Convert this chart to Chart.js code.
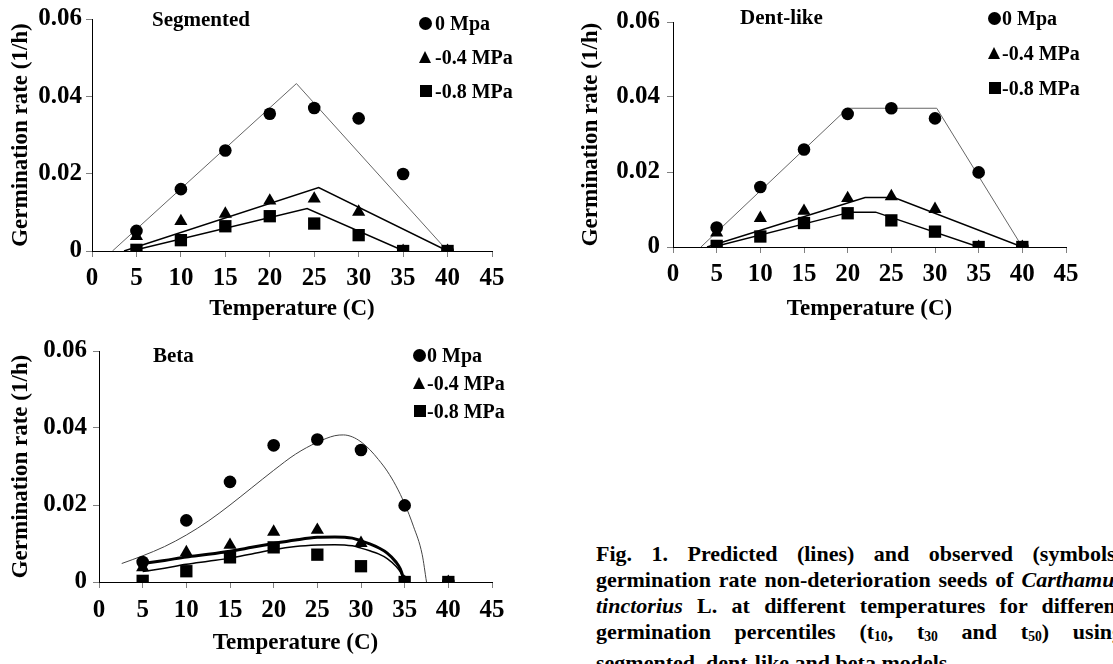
<!DOCTYPE html>
<html>
<head>
<meta charset="utf-8">
<script src="https://cdn.jsdelivr.net/npm/chart.js@4.4.1/dist/chart.umd.min.js"></script>
<style>
  html, body { margin:0; padding:0; background:#fff; }
  body { width:1113px; height:664px; position:relative; overflow:hidden;
         font-family:'Liberation Serif','Times New Roman',serif; font-weight:bold; color:#000; }
  canvas { position:absolute; }
  .lab { position:absolute; white-space:nowrap; line-height:1; }
  .mk { position:absolute; }
  .mk.circle { width:13px; height:13px; border-radius:50%; background:#000; }
  .mk.square { width:12px; height:12px; background:#000; }
  .mk.triangle { width:0; height:0; border-left:6.5px solid transparent; border-right:6.5px solid transparent; border-bottom:12px solid #000; }
  .cap { position:absolute; left:596px; top:541px; width:527px; font-size:22px; line-height:26px; }
  .cap div { text-align:justify; text-align-last:justify; white-space:nowrap; }
  .cap div.last { text-align:left; text-align-last:left; }
  .cap sub { font-size:0.62em; vertical-align:-0.15em; }
</style>
</head>
<body>
<canvas id="c1" width="556" height="330" style="left:0px;top:0px;width:556px;height:330px"></canvas>
<canvas id="c2" width="557" height="330" style="left:556px;top:0px;width:557px;height:330px"></canvas>
<canvas id="c3" width="556" height="334" style="left:0px;top:330px;width:556px;height:334px"></canvas>

<div class="lab" style="left:152px;top:9px;font-size:21px">Segmented</div>
<div class="lab" style="left:740px;top:7px;font-size:21px">Dent-like</div>
<div class="lab" style="left:153px;top:345px;font-size:21px">Beta</div>

<div id="legends"></div>

<div class="cap">
  <div>Fig. 1. Predicted (lines) and observed (symbols)</div>
  <div>germination rate non-deterioration seeds of <i>Carthamus</i></div>
  <div><i>tinctorius</i> L. at different temperatures for different</div>
  <div>germination percentiles (t<sub>10</sub>, t<sub>30</sub> and t<sub>50</sub>) using</div>
  <div class="last">segmented, dent-like and beta models</div>
</div>

<script>
// ---------- data ----------
const temps = [5, 10, 15, 20, 25, 30, 35, 40];
const obs0  = [0.0052, 0.0160, 0.0260, 0.0355, 0.0370, 0.0343, 0.0199, 0];
const obs4  = [0.0038, 0.0077, 0.0096, 0.0130, 0.0135, 0.0101, 0, 0];
const obs8  = [0.0003, 0.0028, 0.0064, 0.0090, 0.0071, 0.0041, 0, 0];
const seriesNames = ['0 Mpa', '-0.4 MPa', '-0.8 MPa'];
const panelTitles = ['Segmented', 'Dent-like', 'Beta'];

// segmented model lines
const segX0 = [2.3, 23.0, 40];   const segY0 = [0, 0.0433, 0];
const segX4 = [3.6, 25.5, 40];   const segY4 = [0, 0.0164, 0];
const segX8 = [4.4, 24.2, 35.1]; const segY8 = [0, 0.0110, 0];

// dent-like model lines
const dentX0 = [3.2, 20.0, 30.2, 40]; const dentY0 = [0, 0.0370, 0.0370, 0];
const dentX4 = [3.9, 22.0, 25.3, 40]; const dentY4 = [0, 0.0132, 0.0132, 0];
const dentX8 = [4.6, 20.3, 23.2, 35]; const dentY8 = [0, 0.0093, 0.0093, 0];

// beta model curves
const betaX0 = [2.6, 5, 7.5, 10, 12.5, 15, 17.5, 20, 22.5, 25, 27, 28, 29, 30, 31, 32, 33, 34, 35, 36, 37, 37.5];
const betaY0 = [0.0048, 0.0068, 0.0092, 0.0122, 0.0158, 0.0200, 0.0245, 0.0290, 0.0332, 0.0363, 0.0380, 0.0382, 0.0377, 0.0364, 0.0344, 0.0318, 0.0288, 0.0250, 0.0203, 0.0145, 0.0072, 0];
const betaX4 = [5, 7.5, 10, 12.5, 15, 17.5, 20, 22.5, 25, 27, 29, 30, 31, 32, 33, 34, 34.5, 35];
const betaY4 = [0.0048, 0.0056, 0.0065, 0.0072, 0.0080, 0.0090, 0.0100, 0.0109, 0.0116, 0.0117, 0.0114, 0.0107, 0.0099, 0.0089, 0.0075, 0.0052, 0.0034, 0];
const betaX8 = [5, 7.5, 10, 12.5, 15, 17.5, 20, 22.5, 25, 27, 29, 30, 31, 32, 33, 34, 34.5, 35];
const betaY8 = [0.0027, 0.0036, 0.0046, 0.0054, 0.0062, 0.0073, 0.0084, 0.0092, 0.0096, 0.0097, 0.0094, 0.0088, 0.0081, 0.0073, 0.0061, 0.0041, 0.0026, 0];

const xTicks = [0, 5, 10, 15, 20, 25, 30, 35, 40, 45];
const yTicks = [0, 0.02, 0.04, 0.06];

// ---------- chart ----------
Chart.defaults.font.family = "'Liberation Serif','Times New Roman',serif";
Chart.defaults.font.weight = 'bold';
Chart.defaults.color = '#000';

const pts = (xs, ys) => xs.map((x, i) => ({x: x, y: ys[i]}));

function panel(id, L) {
  const ds = [];
  ds.push({label:seriesNames[0], data:pts(temps, obs0), pointStyle:'circle', pointRadius:6.3,
           backgroundColor:'#000', borderColor:'#000', borderWidth:0, order:0});
  ds.push({label:seriesNames[2], data:pts(temps, obs8), pointStyle:'rect', pointRadius:8.7,
           backgroundColor:'#000', borderColor:'#000', borderWidth:0, order:1});
  ds.push({label:seriesNames[1], data:pts(temps, obs4), pointStyle:'triangle', pointRadius:7.6,
           backgroundColor:'#000', borderColor:'#000', borderWidth:0, order:2});
  L.lines.forEach((ln, i) => {
    ds.push({label:'model'+i, data:pts(ln.x, ln.y), showLine:true, pointRadius:0,
             borderColor:ln.color, borderWidth:ln.width, fill:false, order:3+i,
             tension: ln.smooth ? 0.4 : 0, cubicInterpolationMode: ln.smooth ? 'monotone' : 'default'});
  });
  return new Chart(document.getElementById(id), {
    type:'scatter',
    data:{datasets:ds},
    options:{
      responsive:false, animation:false, devicePixelRatio:1,
      layout:{padding:L.pad},
      plugins:{legend:{display:false}, tooltip:{enabled:false}},
      scales:{
        x:{type:'linear', min:0, max:45,
           afterBuildTicks:(s)=>{ s.ticks = xTicks.map(v=>({value:v})); },
           afterFit:(s)=>{ s.height = L.xH; },
           ticks:{font:{size:25, weight:'bold'}, color:'#000', padding:L.xPad, maxRotation:0, autoSkip:false,
                  callback:(v)=>String(v)},
           grid:{drawOnChartArea:false, drawTicks:true, tickLength:6, tickColor:'#808080', color:'#808080'},
           border:{display:true, color:'#000', width:1},
           title:{display:true, text:'Temperature (C)', font:{size:23, weight:'bold'}, color:'#000', padding:{top:4,bottom:3}}
        },
        y:{type:'linear', min:0, max:0.06,
           afterBuildTicks:(s)=>{ s.ticks = yTicks.map(v=>({value:v})); },
           afterFit:(s)=>{ s.width = L.yW; },
           ticks:{font:{size:25, weight:'bold'}, color:'#000', padding:L.yPad,
                  callback:(v)=> v === 0 ? '0' : Number(v).toFixed(2)},
           grid:{drawOnChartArea:false, drawTicks:true, tickLength:6, tickColor:'#808080', color:'#808080'},
           border:{display:true, color:'#000', width:1},
           title:{display:true, text:'Germination rate (1/h)', font:{size:23, weight:'bold'}, color:'#000', padding:{top:4,bottom:4}}
        }
      }
    }
  });
}

panel('c1', {pad:{left:3, top:19, right:64, bottom:4}, yW:89, xH:75, xPad:7, yPad:4,
  lines:[{x:segX0, y:segY0, color:'#666', width:1},
         {x:segX4, y:segY4, color:'#000', width:1.5},
         {x:segX8, y:segY8, color:'#000', width:1.5}]});
panel('c2', {pad:{left:17, top:12, right:47, bottom:4}, yW:100, xH:79, xPad:7, yPad:7,
  lines:[{x:dentX0, y:dentY0, color:'#666', width:1},
         {x:dentX4, y:dentY4, color:'#000', width:1.5},
         {x:dentX8, y:dentY8, color:'#000', width:1.5}]});
panel('c3', {pad:{left:3, top:17, right:64, bottom:4}, yW:96, xH:78, xPad:8, yPad:6,
  lines:[{x:betaX0, y:betaY0, color:'#444', width:1, smooth:true},
         {x:betaX4, y:betaY4, color:'#000', width:3, smooth:true},
         {x:betaX8, y:betaY8, color:'#000', width:1.5, smooth:true}]});

// ---------- legends (HTML text + marker shapes) ----------
const markClass = ['circle', 'triangle', 'square'];
const markW = [13, 13, 12], markH = [13, 12, 12];
const legendPos = [
  {x:419, tx:435, ys:[23, 57, 91]},
  {x:988, tx:1002, ys:[18.5, 53, 88]},
  {x:413, tx:427, ys:[355, 383, 411]}
];
const lgFont = 20;
const host = document.getElementById('legends');
legendPos.forEach(p => {
  seriesNames.forEach((n, i) => {
    const m = document.createElement('div');
    m.className = 'mk ' + markClass[i];
    m.style.left = (p.x + (13 - markW[i]) / 2) + 'px';
    m.style.top = (p.ys[i] - markH[i] / 2) + 'px';
    host.appendChild(m);
    const d = document.createElement('div');
    d.className = 'lab';
    d.style.left = p.tx + 'px';
    d.style.top = (p.ys[i] - 0.507 * lgFont) + 'px';
    d.style.fontSize = lgFont + 'px';
    d.textContent = n;
    host.appendChild(d);
  });
});
</script>
</body>
</html>
